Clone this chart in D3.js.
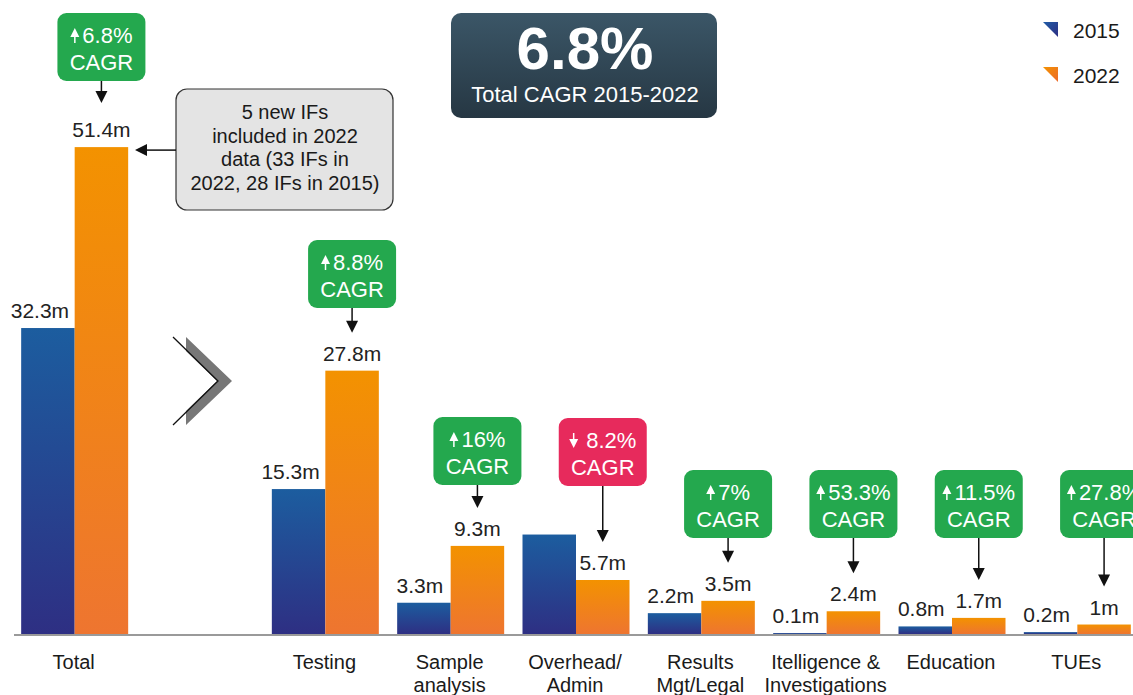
<!DOCTYPE html>
<html><head><meta charset="utf-8">
<script src="https://cdn.jsdelivr.net/npm/d3@7"></script>
<style>
body{margin:0;background:#fff;}
svg{display:block;font-family:"Liberation Sans",Arial,sans-serif;}
</style></head>
<body><svg id="c" width="1133" height="695"></svg>
<script>
const categories = ["Total","Testing","Sample analysis","Overhead/ Admin","Results Mgt/Legal","Itelligence & Investigations","Education","TUEs"];
const categoryLines = [["Total"],["Testing"],["Sample","analysis"],["Overhead/","Admin"],["Results","Mgt/Legal"],["Itelligence &","Investigations"],["Education"],["TUEs"]];
const series = ["2015","2022"];
const values2015 = [32.3,15.3,3.3,10.5,2.2,0.1,0.8,0.2];
const values2022 = [51.4,27.8,9.3,5.7,3.5,2.4,1.7,1.0];
const labels2015 = ["32.3m","15.3m","3.3m","","2.2m","0.1m","0.8m","0.2m"];
const labels2022 = ["51.4m","27.8m","9.3m","5.7m","3.5m","2.4m","1.7m","1m"];
const cagrValues = [6.8,8.8,16,-8.2,7,53.3,11.5,27.8];
const cagrLabels = ["6.8%","8.8%","16%","8.2%","7%","53.3%","11.5%","27.8%"];
const totalCagr = "6.8%";
const totalCagrText = "Total CAGR 2015-2022";
const noteLines = ["5 new IFs","included in 2022","data (33 IFs in","2022, 28 IFs in 2015)"];
// annotation layout (box top y per category)
const boxTops = [13,240,417,418,470,470,470,470];

const svg = d3.select("#c");
const defs = svg.append("defs");
function grad(id, c1, c2, x2, y2){
  const g = defs.append("linearGradient").attr("id",id).attr("x1",0).attr("y1",0).attr("x2",x2).attr("y2",y2);
  g.append("stop").attr("offset","0%").attr("stop-color",c1);
  g.append("stop").attr("offset","100%").attr("stop-color",c2);
}
grad("g2015","#1c5d9f","#2e2f83",0,1);
grad("g2022","#f39200","#ee7530",0,1);
grad("gTitle","#3b5667","#263743",0,1);
grad("l2015","#1f5ca6","#2e2f83",1,1);
grad("l2022","#f39200","#ec6a2c",1,1);

const slots = ["Total","__gap"].concat(categories.slice(1));
const x = d3.scaleBand().domain(slots).range([12,1140]).paddingInner(0).paddingOuter(0);
const groupW = 107;
const x1 = d3.scaleBand().domain(series).range([0,groupW]);
const y = d3.scaleLinear().domain([0,55]).range([634,113]);
const gx = c => x(c) + (x.bandwidth()-groupW)/2;

// bars
const data = categories.map((c,i)=>({c,i,v:[values2015[i],values2022[i]],l:[labels2015[i],labels2022[i]]}));
data.forEach(d=>{
  series.forEach((s,k)=>{
    svg.append("rect").attr("x",gx(d.c)+x1(s)).attr("y",y(d.v[k]))
      .attr("width",x1.bandwidth()).attr("height",y(0)-y(d.v[k]))
      .attr("fill",`url(#g${s})`);
    const off = k===0 ? (d.v[k]>10 ? -8 : -4) : 0;
    if(d.l[k]) svg.append("text").attr("x",gx(d.c)+x1(s)+x1.bandwidth()/2+off).attr("y",y(d.v[k])-10)
      .attr("text-anchor","middle").attr("font-size",21).attr("fill","#222").text(d.l[k]);
  });
});
// baseline
svg.append("line").attr("x1",14).attr("x2",1133).attr("y1",y(0)+1).attr("y2",y(0)+1).attr("stroke","#9a9a9a").attr("stroke-width",2);

// category labels
data.forEach(d=>{
  const t = svg.append("text").attr("text-anchor","middle").attr("font-size",20).attr("fill","#1a1a1a");
  categoryLines[d.i].forEach((ln,j)=>t.append("tspan").attr("x",x(d.c)+x.bandwidth()/2-1).attr("y",669+j*23).text(ln));
});

// CAGR boxes
const boxW = 88, boxH = 68;
data.forEach(d=>{
  const cx = gx(d.c)+x1("2022")+x1.bandwidth()/2;
  const top = boxTops[d.i];
  const up = cagrValues[d.i] >= 0;
  const g = svg.append("g");
  g.append("rect").attr("x",cx-boxW/2).attr("y",top).attr("width",boxW).attr("height",boxH).attr("rx",9)
    .attr("fill", up ? "#24a84e" : "#e72a5c");
  const lineG = g.append("g");
  const t = lineG.append("text").attr("x",0).attr("y",top+30).attr("font-size",22).attr("fill","#fff").text(cagrLabels[d.i]);
  const tw = t.node().getComputedTextLength();
  const aw = 9, gap = up ? 3 : 8;
  t.attr("x", aw+gap);
  // small arrow icon
  const base = top+30, tipY = top+15;
  if(up){
    lineG.append("line").attr("x1",aw/2).attr("x2",aw/2).attr("y1",base).attr("y2",tipY+6).attr("stroke","#fff").attr("stroke-width",1.5);
    lineG.append("path").attr("d",`M0,${tipY+9}L${aw/2},${tipY}L${aw},${tipY+9}Z`).attr("fill","#fff");
  } else {
    lineG.append("line").attr("x1",aw/2).attr("x2",aw/2).attr("y1",tipY).attr("y2",base-6).attr("stroke","#fff").attr("stroke-width",1.5);
    lineG.append("path").attr("d",`M0,${base-9}L${aw/2},${base}L${aw},${base-9}Z`).attr("fill","#fff");
  }
  const totalW = aw+gap+tw;
  lineG.attr("transform",`translate(${cx-totalW/2},0)`);
  g.append("text").attr("x",cx).attr("y",top+57).attr("text-anchor","middle").attr("font-size",22).attr("fill","#fff").text("CAGR");
  // arrow to bar
  const ax = cx;
  const tip = y(values2022[d.i]) - 38 - (d.i===0?6:0);
  g.append("line").attr("x1",ax).attr("x2",ax).attr("y1",top+boxH).attr("y2",tip-10).attr("stroke","#111").attr("stroke-width",1.5);
  g.append("path").attr("d",`M${ax-6},${tip-12}L${ax+6},${tip-12}L${ax},${tip}Z`).attr("fill","#111");
});

// note box
svg.append("rect").attr("x",176).attr("y",89).attr("width",217).attr("height",121).attr("rx",11)
  .attr("fill","#e4e4e4").attr("stroke","#333").attr("stroke-width",1.2);
const nt = svg.append("text").attr("text-anchor","middle").attr("font-size",20).attr("fill","#1a1a1a");
noteLines.forEach((ln,j)=>nt.append("tspan").attr("x",285).attr("y",119+j*23.5).text(ln));
const ny = y(values2022[0])+3;
svg.append("line").attr("x1",176).attr("x2",146).attr("y1",ny).attr("y2",ny).attr("stroke","#111").attr("stroke-width",1.5);
svg.append("path").attr("d",`M${135},${ny}L${147},${ny-6}L${147},${ny+6}Z`).attr("fill","#111");

// title box
svg.append("rect").attr("x",451).attr("y",13).attr("width",266).attr("height",105).attr("rx",10).attr("fill","url(#gTitle)");
svg.append("text").attr("x",585).attr("y",69).attr("text-anchor","middle").attr("font-size",60).attr("font-weight","bold").attr("fill","#fff").text(totalCagr);
svg.append("text").attr("x",585).attr("y",102).attr("text-anchor","middle").attr("font-size",22).attr("fill","#fff").text(totalCagrText);

// legend
series.forEach((s,k)=>{
  const ly = 22 + k*45;
  svg.append("path").attr("d",`M1043,${ly}L1058,${ly}L1058,${ly+15}Z`).attr("fill",`url(#l${s})`);
  svg.append("text").attr("x",1073).attr("y",ly+16).attr("font-size",21).attr("fill","#1a1a1a").text(s);
});

// chevron
svg.append("path").attr("d","M186,337L232,381L186,425L186,411L217,381L186,351Z").attr("fill","#777");
svg.append("path").attr("d","M173,337L218,381L173,425").attr("fill","none").attr("stroke","#111").attr("stroke-width",1.3);
</script></body></html>
